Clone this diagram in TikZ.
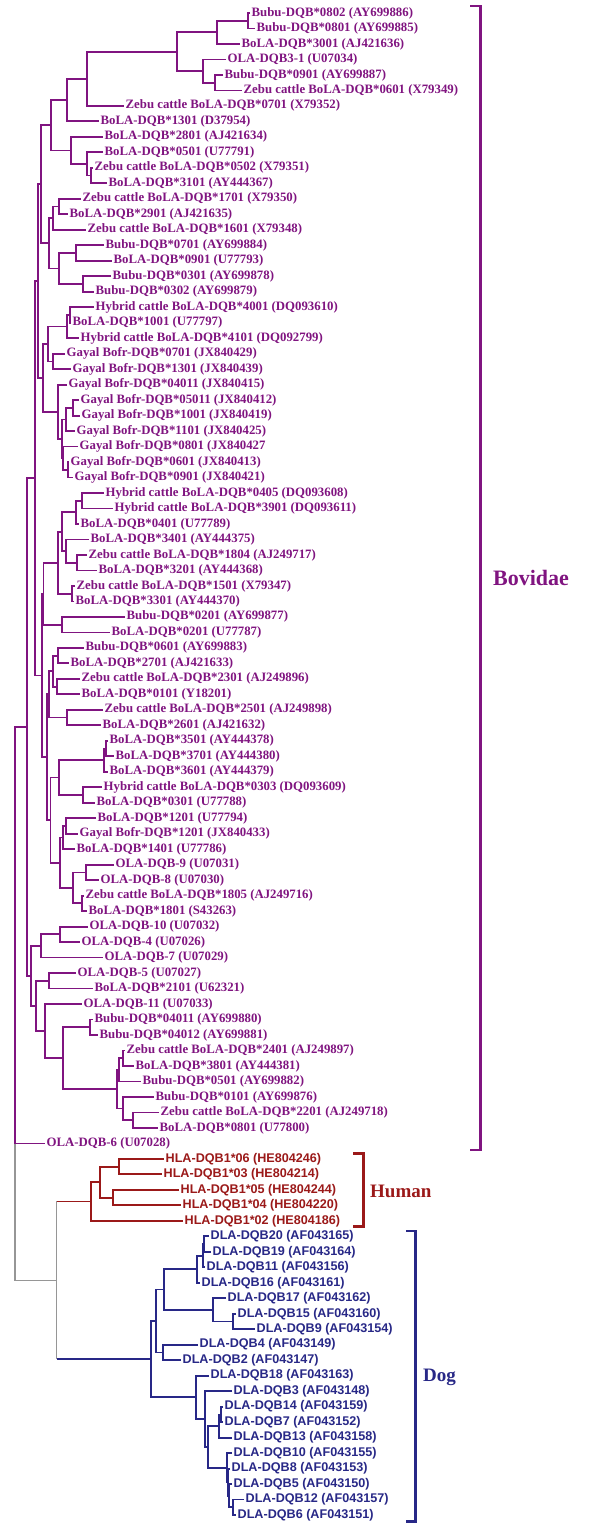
\documentclass[tikz,border=0pt]{standalone}
\usepackage{fontspec}
\setmainfont{Liberation Serif}
\newfontfamily\lsans{Liberation Sans}
\usetikzlibrary{calc}
\definecolor{bovc}{RGB}{128,20,128}
\definecolor{humc}{RGB}{155,25,25}
\definecolor{dogc}{RGB}{40,40,135}
\definecolor{rootc}{RGB}{150,150,150}
\newcommand\tclade[5][bovl]{%
  \path let \p1=($(#4)!.5!(#5)$) in coordinate (#2) at (#3,\y1);
  \draw[#1] (#4) -| (#2) |- (#5);}
\newcommand\tleaf[4]{\node[#1] (L#2) at (#3,{13+(#2-1)*15.485}) {#4};}
\begin{document}
\begin{tikzpicture}[x=1pt,y=-1pt,line join=miter,
  bovl/.style={draw=bovc,line width=1.8pt},
  huml/.style={draw=humc,line width=1.8pt},
  dogl/.style={draw=dogc,line width=1.8pt},
  rootl/.style={draw=rootc,line width=1.1pt},
  leafbase/.style={anchor=west,inner xsep=1.5pt,inner ysep=0pt},
  bov/.style={leafbase,text=bovc,font=\fontsize{12.8}{14}\selectfont\bfseries},
  hum/.style={leafbase,text=humc,font=\lsans\fontsize{12.6}{14}\selectfont\bfseries},
  dog/.style={leafbase,text=dogc,font=\lsans\fontsize{12.6}{14}\selectfont\bfseries},
  grplabel/.style={anchor=west,inner sep=0pt,font=\fontsize{19}{22}\selectfont\bfseries},
  bracket/.style={line width=2.6pt}]
\fill[white] (0,0) rectangle (599,1525);
\useasboundingbox (0,0) rectangle (599,1525);
% ---------------- leaves
\tleaf{bov}{1}{250}{Bubu-DQB*0802 (AY699886)}
\tleaf{bov}{2}{255}{Bubu-DQB*0801 (AY699885)}
\tleaf{bov}{3}{240}{BoLA-DQB*3001 (AJ421636)}
\tleaf{bov}{4}{226}{OLA-DQB3-1 (U07034)}
\tleaf{bov}{5}{223}{Bubu-DQB*0901 (AY699887)}
\tleaf{bov}{6}{242}{Zebu cattle BoLA-DQB*0601 (X79349)}
\tleaf{bov}{7}{124}{Zebu cattle BoLA-DQB*0701 (X79352)}
\tleaf{bov}{8}{99}{BoLA-DQB*1301 (D37954)}
\tleaf{bov}{9}{103}{BoLA-DQB*2801 (AJ421634)}
\tleaf{bov}{10}{103}{BoLA-DQB*0501 (U77791)}
\tleaf{bov}{11}{93}{Zebu cattle BoLA-DQB*0502 (X79351)}
\tleaf{bov}{12}{107}{BoLA-DQB*3101 (AY444367)}
\tleaf{bov}{13}{81}{Zebu cattle BoLA-DQB*1701 (X79350)}
\tleaf{bov}{14}{68}{BoLA-DQB*2901 (AJ421635)}
\tleaf{bov}{15}{86}{Zebu cattle BoLA-DQB*1601 (X79348)}
\tleaf{bov}{16}{104}{Bubu-DQB*0701 (AY699884)}
\tleaf{bov}{17}{112}{BoLA-DQB*0901 (U77793)}
\tleaf{bov}{18}{111}{Bubu-DQB*0301 (AY699878)}
\tleaf{bov}{19}{94}{Bubu-DQB*0302 (AY699879)}
\tleaf{bov}{20}{94}{Hybrid cattle BoLA-DQB*4001 (DQ093610)}
\tleaf{bov}{21}{71}{BoLA-DQB*1001 (U77797)}
\tleaf{bov}{22}{79}{Hybrid cattle BoLA-DQB*4101 (DQ092799)}
\tleaf{bov}{23}{65}{Gayal Bofr-DQB*0701 (JX840429)}
\tleaf{bov}{24}{71}{Gayal Bofr-DQB*1301 (JX840439)}
\tleaf{bov}{25}{67}{Gayal Bofr-DQB*04011 (JX840415)}
\tleaf{bov}{26}{79}{Gayal Bofr-DQB*05011 (JX840412)}
\tleaf{bov}{27}{80}{Gayal Bofr-DQB*1001 (JX840419)}
\tleaf{bov}{28}{75}{Gayal Bofr-DQB*1101 (JX840425)}
\tleaf{bov}{29}{78}{Gayal Bofr-DQB*0801 (JX840427}
\tleaf{bov}{30}{69}{Gayal Bofr-DQB*0601 (JX840413)}
\tleaf{bov}{31}{73}{Gayal Bofr-DQB*0901 (JX840421)}
\tleaf{bov}{32}{104}{Hybrid cattle BoLA-DQB*0405 (DQ093608)}
\tleaf{bov}{33}{113}{Hybrid cattle BoLA-DQB*3901 (DQ093611)}
\tleaf{bov}{34}{79}{BoLA-DQB*0401 (U77789)}
\tleaf{bov}{35}{89}{BoLA-DQB*3401 (AY444375)}
\tleaf{bov}{36}{87}{Zebu cattle BoLA-DQB*1804 (AJ249717)}
\tleaf{bov}{37}{97}{BoLA-DQB*3201 (AY444368)}
\tleaf{bov}{38}{75}{Zebu cattle BoLA-DQB*1501 (X79347)}
\tleaf{bov}{39}{74}{BoLA-DQB*3301 (AY444370)}
\tleaf{bov}{40}{125}{Bubu-DQB*0201 (AY699877)}
\tleaf{bov}{41}{110}{BoLA-DQB*0201 (U77787)}
\tleaf{bov}{42}{84}{Bubu-DQB*0601 (AY699883)}
\tleaf{bov}{43}{69}{BoLA-DQB*2701 (AJ421633)}
\tleaf{bov}{44}{80}{Zebu cattle BoLA-DQB*2301 (AJ249896)}
\tleaf{bov}{45}{80}{BoLA-DQB*0101 (Y18201)}
\tleaf{bov}{46}{103}{Zebu cattle BoLA-DQB*2501 (AJ249898)}
\tleaf{bov}{47}{101}{BoLA-DQB*2601 (AJ421632)}
\tleaf{bov}{48}{108}{BoLA-DQB*3501 (AY444378)}
\tleaf{bov}{49}{114}{BoLA-DQB*3701 (AY444380)}
\tleaf{bov}{50}{108}{BoLA-DQB*3601 (AY444379)}
\tleaf{bov}{51}{102}{Hybrid cattle BoLA-DQB*0303 (DQ093609)}
\tleaf{bov}{52}{95}{BoLA-DQB*0301 (U77788)}
\tleaf{bov}{53}{96}{BoLA-DQB*1201 (U77794)}
\tleaf{bov}{54}{78}{Gayal Bofr-DQB*1201 (JX840433)}
\tleaf{bov}{55}{75}{BoLA-DQB*1401 (U77786)}
\tleaf{bov}{56}{114}{OLA-DQB-9 (U07031)}
\tleaf{bov}{57}{99}{OLA-DQB-8 (U07030)}
\tleaf{bov}{58}{84}{Zebu cattle BoLA-DQB*1805 (AJ249716)}
\tleaf{bov}{59}{87}{BoLA-DQB*1801 (S43263)}
\tleaf{bov}{60}{88}{OLA-DQB-10 (U07032)}
\tleaf{bov}{61}{80}{OLA-DQB-4 (U07026)}
\tleaf{bov}{62}{103}{OLA-DQB-7 (U07029)}
\tleaf{bov}{63}{76}{OLA-DQB-5 (U07027)}
\tleaf{bov}{64}{93}{BoLA-DQB*2101 (U62321)}
\tleaf{bov}{65}{82}{OLA-DQB-11 (U07033)}
\tleaf{bov}{66}{93}{Bubu-DQB*04011 (AY699880)}
\tleaf{bov}{67}{98}{Bubu-DQB*04012 (AY699881)}
\tleaf{bov}{68}{125}{Zebu cattle BoLA-DQB*2401 (AJ249897)}
\tleaf{bov}{69}{134}{BoLA-DQB*3801 (AY444381)}
\tleaf{bov}{70}{141}{Bubu-DQB*0501 (AY699882)}
\tleaf{bov}{71}{154}{Bubu-DQB*0101 (AY699876)}
\tleaf{bov}{72}{159}{Zebu cattle BoLA-DQB*2201 (AJ249718)}
\tleaf{bov}{73}{158}{BoLA-DQB*0801 (U77800)}
\tleaf{bov}{74}{45}{OLA-DQB-6 (U07028)}
\tleaf{hum}{75}{164}{HLA-DQB1*06 (HE804246)}
\tleaf{hum}{76}{162}{HLA-DQB1*03 (HE804214)}
\tleaf{hum}{77}{179}{HLA-DQB1*05 (HE804244)}
\tleaf{hum}{78}{181}{HLA-DQB1*04 (HE804220)}
\tleaf{hum}{79}{183}{HLA-DQB1*02 (HE804186)}
\tleaf{dog}{80}{209}{DLA-DQB20 (AF043165)}
\tleaf{dog}{81}{211}{DLA-DQB19 (AF043164)}
\tleaf{dog}{82}{205}{DLA-DQB11 (AF043156)}
\tleaf{dog}{83}{200}{DLA-DQB16 (AF043161)}
\tleaf{dog}{84}{226}{DLA-DQB17 (AF043162)}
\tleaf{dog}{85}{236}{DLA-DQB15 (AF043160)}
\tleaf{dog}{86}{255}{DLA-DQB9 (AF043154)}
\tleaf{dog}{87}{198}{DLA-DQB4 (AF043149)}
\tleaf{dog}{88}{181}{DLA-DQB2 (AF043147)}
\tleaf{dog}{89}{209}{DLA-DQB18 (AF043163)}
\tleaf{dog}{90}{232}{DLA-DQB3 (AF043148)}
\tleaf{dog}{91}{223}{DLA-DQB14 (AF043159)}
\tleaf{dog}{92}{223}{DLA-DQB7 (AF043152)}
\tleaf{dog}{93}{232}{DLA-DQB13 (AF043158)}
\tleaf{dog}{94}{232}{DLA-DQB10 (AF043155)}
\tleaf{dog}{95}{230}{DLA-DQB8 (AF043153)}
\tleaf{dog}{96}{232}{DLA-DQB5 (AF043150)}
\tleaf{dog}{97}{244}{DLA-DQB12 (AF043157)}
\tleaf{dog}{98}{236}{DLA-DQB6 (AF043151)}
% ---------------- Bovidae clades (upper)
\tclade{n12}{248}{L1.west}{L2.west}
\tclade{n123}{217}{n12}{L3.west}
\tclade{n56}{215}{L5.west}{L6.west}
\tclade{n456}{203}{L4.west}{n56}
\tclade{nAB}{177}{n123}{n456}
\tclade{nAB7}{87}{nAB}{L7.west}
\tclade{nC}{67}{nAB7}{L8.west}
\tclade{n1112}{90.7}{L11.west}{L12.west}
\tclade{nF}{87.3}{L10.west}{n1112}
\tclade{nE}{70.7}{L9.west}{nF}
\tclade{nD}{50.7}{nC}{nE}
\tclade{n1314}{59.3}{L13.west}{L14.west}
\tclade{n1315}{53.3}{n1314}{L15.west}
\tclade{n1617}{76}{L16.west}{L17.west}
\tclade{n1819}{83.3}{L18.west}{L19.west}
\tclade{n1619}{59.3}{n1617}{n1819}
\tclade{G2}{49.3}{n1315}{n1619}
\tclade{G1p}{40.7}{nD}{G2}
\tclade{n2021}{70}{L20.west}{L21.west}
\tclade{n2022}{66.7}{n2021}{L22.west}
\tclade{n2324}{52.7}{L23.west}{L24.west}
\tclade{G3}{48.3}{n2022}{n2324}
\tclade{n2627}{72.7}{L26.west}{L27.west}
\tclade{n2628}{66}{n2627}{L28.west}
\tclade{n3031}{68.3}{L30.west}{L31.west}
\tclade{n2931}{63}{L29.west}{n3031}
\tclade{n2631}{61.7}{n2628}{n2931}
\tclade{G4}{58.3}{L25.west}{n2631}
\tclade{G34}{43.3}{G3}{G4}
\tclade{U1}{38.3}{G1p}{G34}
\tclade{n3233}{81.7}{L32.west}{L33.west}
\tclade{n3234}{76}{n3233}{L34.west}
\tclade{n3637}{77.3}{L36.west}{L37.west}
\tclade{n3537}{66}{L35.west}{n3637}
\tclade{n3237}{61.7}{n3234}{n3537}
\tclade{n3839}{71.7}{L38.west}{L39.west}
\tclade{G5}{58.3}{n3237}{n3839}
\tclade{G6}{61.7}{L40.west}{L41.west}
\tclade{U2a}{43.5}{G5}{G6}
\tclade{n4243}{58.3}{L42.west}{L43.west}
\tclade{n4445}{57.3}{L44.west}{L45.west}
\tclade{n4245}{52.7}{n4243}{n4445}
\tclade{n4647}{66.7}{L46.west}{L47.west}
\tclade{G7}{49.3}{n4245}{n4647}
\tclade{n4849}{106}{L48.west}{L49.west}
\tclade{n4850}{104}{n4849}{L50.west}
\tclade{n5152}{83.3}{L51.west}{L52.west}
\tclade{G8}{59.3}{n4850}{n5152}
\tclade{n5354}{66}{L53.west}{L54.west}
\tclade{n5355}{63.3}{n5354}{L55.west}
\tclade{n5657}{86}{L56.west}{L57.west}
\tclade{n5859}{81.7}{L58.west}{L59.west}
\tclade{n5659}{72.7}{n5657}{n5859}
\tclade{G9}{60}{n5355}{n5659}
\tclade{G89}{50.5}{G8}{G9}
\tclade{U2b}{46.7}{G7}{G89}
\tclade{U2}{41.7}{U2a}{U2b}
\tclade{UP}{35}{U1}{U2}
% ---------------- Bovidae clades (lower)
\tclade{n6061}{60}{L60.west}{L61.west}
\tclade{n6062}{40.7}{n6061}{L62.west}
\tclade{n6364}{49.3}{L63.west}{L64.west}
\tclade{n6667}{90}{L66.west}{L67.west}
\tclade{n6869}{122.7}{L68.west}{L69.west}
\tclade{n6870}{119.3}{n6869}{L70.west}
\tclade{n7273}{132.7}{L72.west}{L73.west}
\tclade{n7173}{123.3}{L71.west}{n7273}
\tclade{n6873}{116.7}{n6870}{n7173}
\tclade{n6673}{63.3}{n6667}{n6873}
\tclade{n6573}{45}{L65.west}{n6673}
\tclade{n6373}{36}{n6364}{n6573}
\tclade{LOW}{30.7}{n6062}{n6373}
\tclade{BIG}{26.7}{UP}{LOW}
% ---------------- Human
\tclade[huml]{h12}{119.3}{L75.west}{L76.west}
\tclade[huml]{h34}{112.7}{L77.west}{L78.west}
\tclade[huml]{h14}{100}{h12}{h34}
\tclade[huml]{HUM}{90.7}{h14}{L79.west}
% ---------------- Dog
\tclade[dogl]{d12}{204}{L80.west}{L81.west}
\tclade[dogl]{d13}{202.7}{d12}{L82.west}
\tclade[dogl]{d14}{196.7}{d13}{L83.west}
\tclade[dogl]{d67}{232.7}{L85.west}{L86.west}
\tclade[dogl]{d57}{212.7}{L84.west}{d67}
\tclade[dogl]{d17}{164.3}{d14}{d57}
\tclade[dogl]{d89}{163.3}{L87.west}{L88.west}
\tclade[dogl]{d19}{156}{d17}{d89}
\tclade[dogl]{e1}{233.3}{L97.west}{L98.west}
\tclade[dogl]{e2}{229.3}{L96.west}{e1}
\tclade[dogl]{e3}{228.3}{L95.west}{e2}
\tclade[dogl]{e4}{226.7}{L94.west}{e3}
\tclade[dogl]{f1}{220.7}{L91.west}{L92.west}
\tclade[dogl]{f2}{219.3}{f1}{L93.west}
\tclade[dogl]{f3}{208.3}{f2}{e4}
\tclade[dogl]{f4}{205}{L90.west}{f3}
\tclade[dogl]{f5}{196}{L89.west}{f4}
\tclade[dogl]{DOG}{150.7}{d19}{f5}
% ---------------- root part
\path let \p1=($(HUM)!.5!(DOG)$) in coordinate (HD) at (56.7,\y1);
\path let \p1=($(BIG)!.5!(L74.west)$) in coordinate (BOV) at (15,\y1);
\path let \p1=($(BOV)!.5!(HD)$) in coordinate (ROOT) at (15,\y1);
\draw[rootl] (BOV) -- (ROOT) |- (HD);
\draw[rootl] (HUM -| HD) -- (DOG -| HD);
\draw[huml] (HUM) -- (HUM -| HD);
\draw[dogl] (DOG) -- (DOG -| HD);
\draw[bovl] (BIG) -| (BOV) |- (L74.west);
% ---------------- brackets and group labels
\coordinate (bovT) at (470,6);
\coordinate (bovB) at (470,1150);
\draw[bracket,draw=bovc] (bovT) -- ++(10.5,0) |- (bovB);
\node[grplabel,text=bovc,font=\fontsize{22}{26}\selectfont\bfseries] (bovlab) at (493,578) {Bovidae};
\coordinate (humT) at (353,1153.5);
\coordinate (humB) at (353,1226.5);
\draw[bracket,draw=humc] (humT) -- ++(10.5,0) |- (humB);
\node[grplabel,text=humc] (humlab) at (370,1191) {Human};
\coordinate (dogT) at (406,1231);
\coordinate (dogB) at (406,1521.5);
\draw[bracket,draw=dogc] (dogT) -- ++(9.5,0) |- (dogB);
\node[grplabel,text=dogc] (doglab) at (423,1377) {Dog};
\end{tikzpicture}
\end{document}
